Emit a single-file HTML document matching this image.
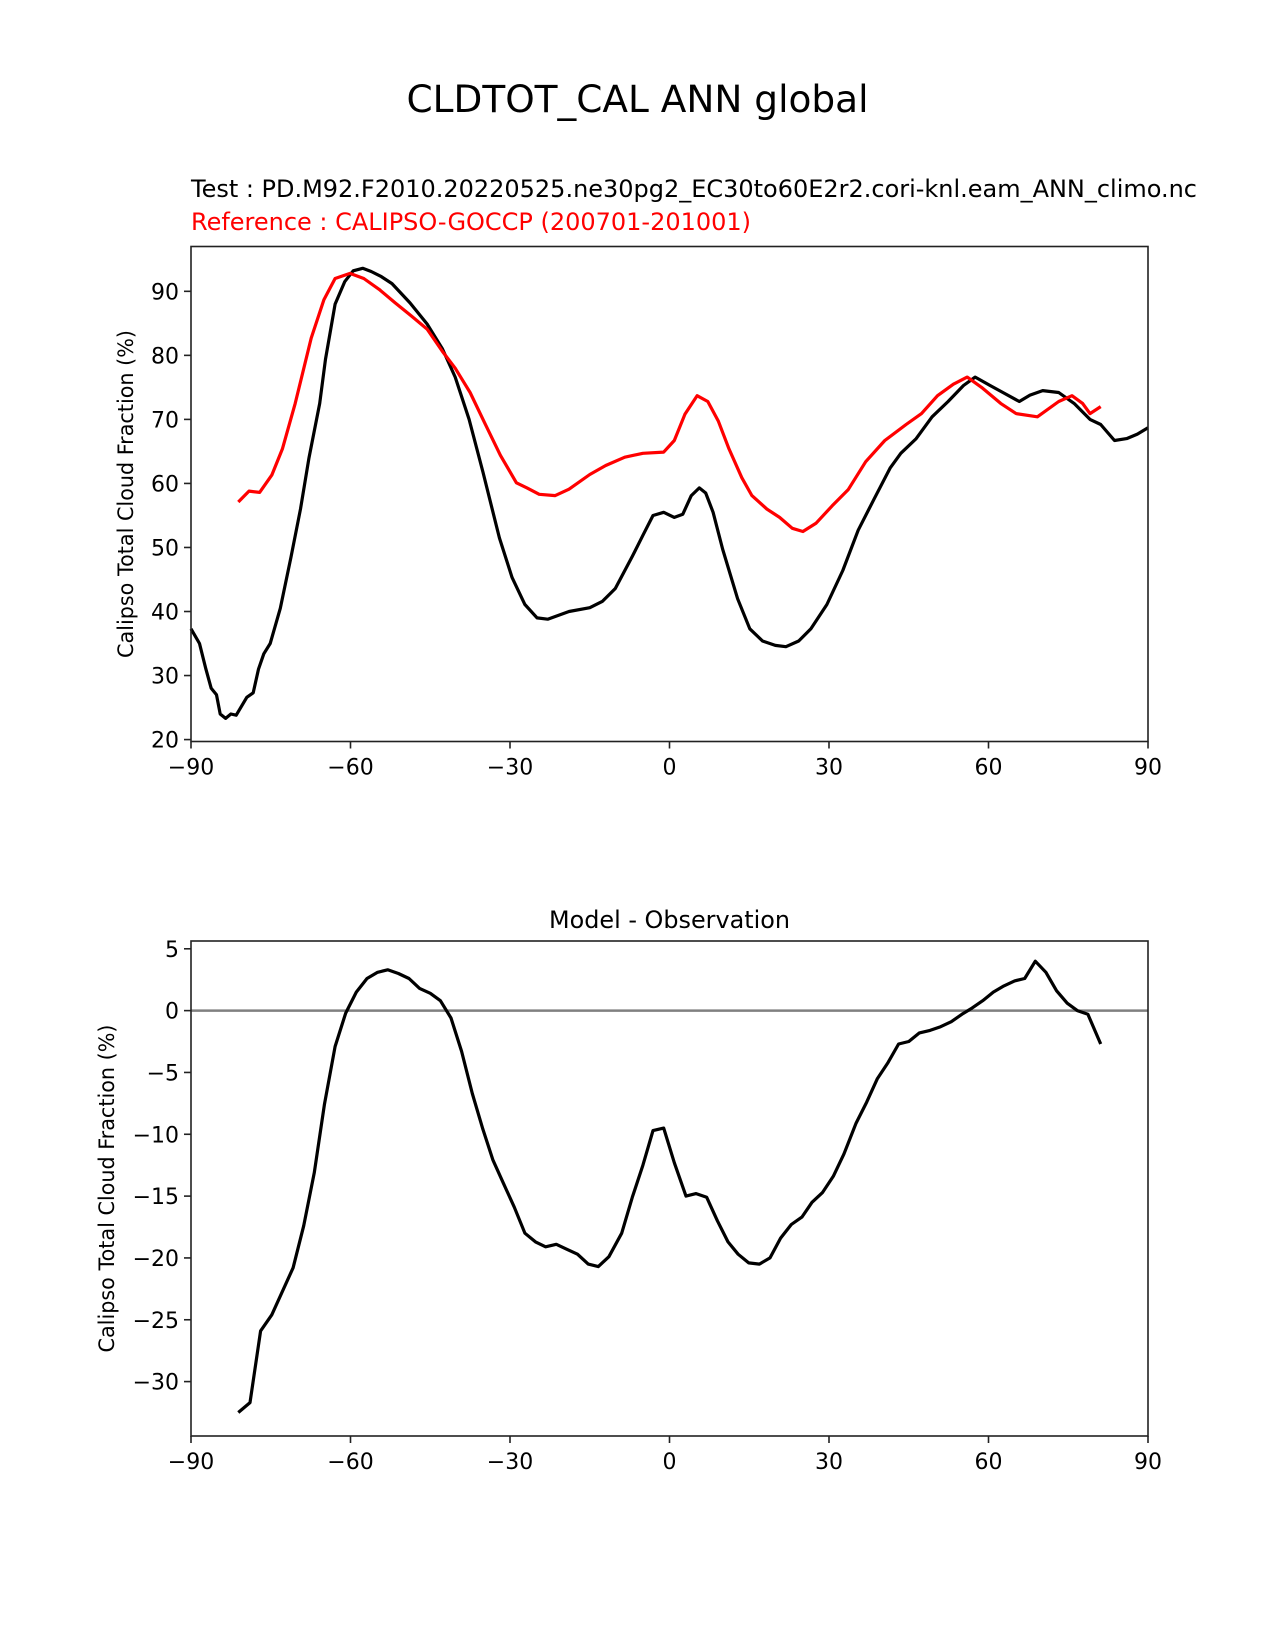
<!DOCTYPE html>
<html><head><meta charset="utf-8">
<style>
html,body{margin:0;padding:0;background:#fff;}
svg{display:block;font-family:"DejaVu Sans","Liberation Sans",sans-serif;}
</style></head>
<body>
<svg id="fig" width="1275" height="1650" viewBox="0 0 1275 1650" xmlns="http://www.w3.org/2000/svg">
<rect width="1275" height="1650" fill="#fff"/>
<text x="637.5" y="112" font-size="37.5" text-anchor="middle" textLength="462" lengthAdjust="spacingAndGlyphs">CLDTOT_CAL ANN global</text>
<text x="191" y="197" font-size="24" textLength="1006" lengthAdjust="spacingAndGlyphs">Test : PD.M92.F2010.20220525.ne30pg2_EC30to60E2r2.cori-knl.eam_ANN_climo.nc</text>
<text x="191" y="230" font-size="24" fill="#ff0000" textLength="560" lengthAdjust="spacingAndGlyphs">Reference : CALIPSO-GOCCP (200701-201001)</text>
<text x="669.5" y="928" font-size="24" text-anchor="middle" textLength="241" lengthAdjust="spacingAndGlyphs">Model - Observation</text>
<g id="topPanel"></g>
<g id="botPanel"></g>
</svg>
<script>
const testLat=[-90,-88.4,-87.2,-86.2,-85.2,-84.5,-83.5,-82.5,-81.5,-79.5,-78.3,-77.3,-76.3,-75.1,-73.2,-71.2,-69.4,-67.8,-65.8,-64.7,-62.9,-61.1,-59.5,-57.7,-56.1,-54.2,-52.2,-48.8,-45.6,-42.7,-40.3,-37.7,-35.1,-32,-29.6,-27.2,-24.9,-22.9,-18.9,-15,-12.6,-10.2,-7,-5,-3.1,-1.1,0.9,2.5,4.1,5.6,6.8,8.2,10,12.8,15.1,17.5,19.9,21.9,24.3,26.6,29.6,32.6,35.5,38.5,41.5,43.5,46.4,49.4,52.4,55.3,57.5,60.3,62.7,65.8,67.8,70.2,73.2,76.1,79.1,81.1,83.7,86,88,90];
const testVal=[37.3,35,31,28,27,24,23.3,24,23.8,26.6,27.3,31,33.4,35,40.5,48.5,56,64,72.5,79.4,88,91.5,93.2,93.6,93.1,92.3,91.2,88.2,84.9,81,76.6,70,61.8,51.5,45.3,41.1,39,38.8,40,40.6,41.6,43.6,48.6,51.9,55,55.5,54.7,55.2,58.1,59.3,58.5,55.5,49.7,42,37.3,35.4,34.7,34.5,35.4,37.3,41.1,46.4,52.7,57.6,62.4,64.7,67,70.4,72.8,75.3,76.6,75.3,74.2,72.8,73.8,74.5,74.2,72.5,70,69.2,66.7,67,67.7,68.7];
const refLat=[-81.1,-79.1,-77.1,-74.8,-72.8,-70.4,-67.4,-65,-62.9,-60.1,-57.5,-54.6,-51.6,-48.6,-45.6,-42.7,-40.3,-37.5,-34.8,-31.8,-28.8,-26.8,-24.5,-21.5,-18.9,-15,-12,-8.4,-5,-1.1,0.9,2.9,5.2,7.2,9.2,11.2,13.6,15.5,18.3,20.7,23.1,25.1,27.6,30.6,33.6,36.9,40.5,44.5,47.4,50.4,53.4,56,58.7,62.3,65.2,69.2,73.2,75.7,77.7,79.1,81.1];
const refVal=[57.1,58.8,58.6,61.3,65.4,72.5,82.7,88.7,92,92.8,92,90.3,88.2,86.2,84.1,80.6,78,74.2,69.5,64.4,60.1,59.3,58.3,58.1,59.1,61.4,62.8,64.1,64.7,64.9,66.7,70.8,73.7,72.8,69.7,65.4,60.9,58.1,56,54.7,53,52.5,53.8,56.5,59,63.4,66.7,69.2,70.9,73.7,75.5,76.6,75,72.5,70.9,70.4,72.8,73.7,72.5,70.9,72];
const diffLat=[-81.1,-78.9,-76.9,-74.8,-70.8,-68.8,-66.8,-64.9,-62.9,-60.9,-58.9,-56.9,-54.9,-53,-51,-49,-47,-45,-43.1,-41.1,-39.1,-37.1,-35.1,-33.2,-31.2,-29.2,-27.2,-25.2,-23.3,-21.3,-19.3,-17.3,-15.3,-13.4,-11.4,-9,-7,-5,-3.1,-1.1,0.9,3.1,5,7,9,11,12.9,14.9,16.9,18.9,20.9,22.9,24.9,26.8,28.8,30.8,32.8,35.1,37.1,39.1,41.1,43.1,45,47,49,51,53,55,56.9,58.9,60.9,62.9,64.9,66.8,68.8,70.8,72.8,74.8,76.7,78.7,81.1];
const diffVal=[-32.5,-31.7,-25.9,-24.6,-20.8,-17.4,-13.1,-7.6,-2.9,-0.2,1.5,2.6,3.1,3.3,3,2.6,1.8,1.4,0.8,-0.6,-3.3,-6.7,-9.6,-12.1,-14,-15.9,-18,-18.7,-19.1,-18.9,-19.3,-19.7,-20.5,-20.7,-19.9,-18,-15.1,-12.5,-9.7,-9.5,-12.3,-15,-14.8,-15.1,-17,-18.7,-19.7,-20.4,-20.5,-20,-18.4,-17.3,-16.7,-15.5,-14.7,-13.4,-11.6,-9.1,-7.4,-5.5,-4.2,-2.7,-2.5,-1.8,-1.6,-1.3,-0.9,-0.3,0.2,0.8,1.5,2,2.4,2.6,4,3.1,1.6,0.6,0,-0.3,-2.7];
const xTicks=[-90,-60,-30,0,30,60,90];
const topYTicks=[20,30,40,50,60,70,80,90];
const botYTicks=[5,0,-5,-10,-15,-20,-25,-30];

const NS='http://www.w3.org/2000/svg';
function mk(parent,tag,attrs){const e=document.createElementNS(NS,tag);for(const k in attrs)e.setAttribute(k,attrs[k]);parent.appendChild(e);return e;}
const fmt=v=>v<0?'\u2212'+Math.abs(v):String(v);

function panel(g,box,ylim,yTicks,ylabelX){
  const xs=v=>box.l+(v+90)/180*(box.r-box.l);
  const ys=v=>box.b-(v-ylim[0])/(ylim[1]-ylim[0])*(box.b-box.t);
  xTicks.forEach(t=>{
    const l=mk(g,'line',{x1:xs(t),x2:xs(t),y1:box.b,y2:box.b+7,stroke:'#222','stroke-width':1.6});
    
    
    const tx=mk(g,'text',{x:xs(t),y:box.b+33,'font-size':22,'text-anchor':'middle'});
    tx.textContent=fmt(t);
    
    
  });
  yTicks.forEach(t=>{
    const l=mk(g,'line',{x1:box.l-7,x2:box.l,y1:ys(t),y2:ys(t),stroke:'#222','stroke-width':1.6});
    
    
    const tx=mk(g,'text',{x:box.l-12,y:ys(t)+8,'font-size':22,'text-anchor':'end'});
    tx.textContent=fmt(t);
    
    
  });
  const cy=(box.t+box.b)/2;
  const yl=mk(g,'text',{x:ylabelX,y:cy,'font-size':21,'text-anchor':'middle',textLength:328,lengthAdjust:'spacingAndGlyphs',transform:`rotate(-90 ${ylabelX} ${cy})`});
  yl.textContent='Calipso Total Cloud Fraction (%)';
  
  
  return {xs,ys};
}
function drawLine(g,xs,ys,lat,val,color,name){
  const d=lat.map((v,i)=>(i?'L':'M')+xs(v).toFixed(1)+','+ys(val[i]).toFixed(1)).join('');
  const p=mk(g,'path',{d,fill:'none',stroke:color,'stroke-width':3.2,'stroke-linejoin':'round'});
  
  
}
function frame(g,box){
  const r=mk(g,'rect',{x:box.l,y:box.t,width:box.r-box.l,height:box.b-box.t,fill:'none',stroke:'#222','stroke-width':1.6});
  
  
}

const topG=document.getElementById('topPanel');
const tb={l:191,r:1148,t:246.5,b:741.5};
const T=panel(topG,tb,[19.7,97.0],topYTicks,133);
drawLine(topG,T.xs,T.ys,testLat,testVal,'#000','test-line');
drawLine(topG,T.xs,T.ys,refLat,refVal,'#ff0000','reference-line');
frame(topG,tb);

const botG=document.getElementById('botPanel');
const bb={l:191,r:1148,t:941,b:1436};
const B=panel(botG,bb,[-34.4,5.63],botYTicks,114);
const z=mk(botG,'line',{x1:bb.l,x2:bb.r,y1:B.ys(0),y2:B.ys(0),stroke:'#808080','stroke-width':2.6});


drawLine(botG,B.xs,B.ys,diffLat,diffVal,'#000','difference-line');
frame(botG,bb);
</script>
</body></html>
